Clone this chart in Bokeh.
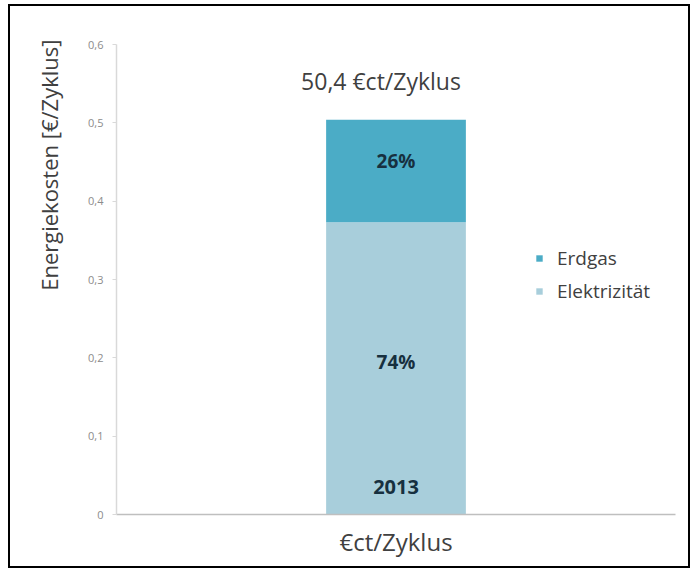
from bokeh.plotting import figure
from bokeh.models import (FactorRange, Range1d, FixedTicker, CustomJSTickFormatter,
                          Legend, LegendItem, Title)
from bokeh.core.properties import value
from bokeh.embed import file_html
from bokeh.resources import INLINE

# Energy cost per cycle, split by energy carrier
categories = ["2013"]
series = ["Elektrizität", "Erdgas"]
elektrizitaet = [0.373]
erdgas = [0.131]
colors = ["#A8CEDB", "#4BACC6"]
y_ticks = [0.0, 0.1, 0.2, 0.3, 0.4, 0.5, 0.6]

FONT = "Open Sans"
TEXT_GRAY = "#404040"
LABEL_DARK = "#17303F"

total = [e + g for e, g in zip(elektrizitaet, erdgas)]

data = {"x": categories, "Elektrizität": elektrizitaet, "Erdgas": erdgas}

p = figure(width=682, height=564, x_range=FactorRange(factors=categories, range_padding=0),
           y_range=Range1d(0, 0.6), output_backend="svg", toolbar_location=None,
           min_border_left=106, min_border_right=17, min_border_top=38, min_border_bottom=56)
p.background_fill_color = "white"
p.border_fill_color = "white"
p.outline_line_color = None
p.grid.grid_line_color = None
# Black frame around the whole chart
p.styles = {"border": "2px solid black", "margin-left": "8px", "margin-top": "4px"}

bars = p.vbar_stack(series, x="x", width=0.25, color=colors, source=data, line_color=None)

# Y axis
p.yaxis.ticker = FixedTicker(ticks=y_ticks)
p.yaxis.formatter = CustomJSTickFormatter(
    code="return tick === 0 ? '0' : tick.toFixed(1).replace('.', ',');")
p.yaxis.axis_line_color = "#D9D9D9"
p.yaxis.axis_line_width = 1.5
p.yaxis.major_tick_line_color = "#D9D9D9"
p.yaxis.major_tick_out = 4
p.yaxis.major_tick_in = 0
p.yaxis.minor_tick_line_color = None
p.yaxis.major_label_text_font = FONT
p.yaxis.major_label_text_font_size = "11px"
p.yaxis.major_label_text_color = "#8C8C8C"
p.yaxis.major_label_standoff = 9

# X axis: base line and axis title only
p.xaxis.ticker = FixedTicker(ticks=[])
p.xaxis.axis_line_color = "#BFBFBF"
p.xaxis.axis_line_width = 1.5
p.xaxis.major_tick_line_color = None
p.xaxis.minor_tick_line_color = None
p.xaxis.axis_label = "€ct/Zyklus"
p.xaxis.axis_label_standoff = 10
p.xaxis.axis_label_text_font = FONT
p.xaxis.axis_label_text_font_size = "24px"
p.xaxis.axis_label_text_font_style = "normal"
p.xaxis.axis_label_text_color = TEXT_GRAY

# Y axis title, placed in the upper part of the left margin
p.add_layout(Title(text="Energiekosten [€/Zyklus]", align="right", offset=-5,
                   standoff=43, text_font=FONT, text_font_size="22px",
                   text_font_style="normal", text_color=TEXT_GRAY), "left")

# Segment share labels
for i, cat in enumerate(categories):
    share_el = elektrizitaet[i] / total[i]
    share_gas = erdgas[i] / total[i]
    p.text(x=[cat], y=[elektrizitaet[i] / 2], text=[f"{round(share_el * 100)}%"],
           text_align="center", text_baseline="middle", y_offset=-6,
           text_font=value(FONT), text_font_size="19px", text_font_style="bold",
           text_color=LABEL_DARK)
    p.text(x=[cat], y=[elektrizitaet[i] + erdgas[i] / 2], text=[f"{round(share_gas * 100)}%"],
           text_align="center", text_baseline="middle", y_offset=-10,
           text_font=value(FONT), text_font_size="19px", text_font_style="bold",
           text_color=LABEL_DARK)
    p.text(x=[cat], y=[0], text=[cat], text_align="center", text_baseline="middle",
           y_offset=-28, text_font=value(FONT), text_font_size="20px",
           text_font_style="bold", text_color=LABEL_DARK)
    total_label = f"{total[i] * 100:.1f}".replace(".", ",") + " €ct/Zyklus"
    p.text(x=[cat], y=[total[i]], text=[total_label], text_align="center",
           text_baseline="middle", x_offset=-15, y_offset=-39,
           text_font=value(FONT), text_font_size="23px", text_color=TEXT_GRAY)

# Legend, top series first
legend = Legend(items=[LegendItem(label=series[1], renderers=[bars[1]]),
                       LegendItem(label=series[0], renderers=[bars[0]])],
                location=(419, 210), orientation="vertical",
                glyph_width=8, glyph_height=8, label_height=26, spacing=7,
                label_standoff=14, padding=0, margin=0,
                border_line_color=None, background_fill_alpha=0,
                label_text_font=FONT, label_text_font_size="19px",
                label_text_color=TEXT_GRAY)
p.add_layout(legend)

open("out.html", "w").write(file_html(p, INLINE))
